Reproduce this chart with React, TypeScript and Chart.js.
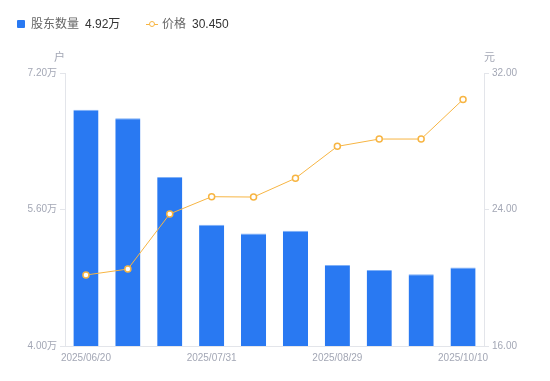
import React, { useEffect, useRef } from "react";
import { Chart, registerables } from "chart.js";

Chart.register(...registerables);

const categories = [
  "2025/06/20", "2025/06/30", "2025/07/10", "2025/07/31", "2025/08/10",
  "2025/08/20", "2025/08/29", "2025/09/10", "2025/09/30", "2025/10/10",
];
const holders = [6.77, 6.67, 5.98, 5.42, 5.32, 5.35, 4.95, 4.89, 4.84, 4.92];
const prices = [20.16, 20.51, 23.74, 24.75, 24.73, 25.83, 27.7, 28.13, 28.13, 30.45];
const leftTicks = [4.0, 5.6, 7.2];
const rightTicks = [16, 24, 32];
const shownLabelIdx = [0, 3, 6, 9];

const BLUE = "#2979f2";
const ORANGE = "#f7b543";
const TICK = "#a3a7b5";
const AXIS = "#e3e5ea";
const FONT = "'Liberation Sans', 'Noto Sans CJK SC', sans-serif";

export default function App() {
  const ref = useRef<HTMLCanvasElement | null>(null);
  useEffect(() => {
    if (!ref.current) return;
    const chart = new Chart(ref.current, {
      type: "bar",
      data: {
        labels: categories,
        datasets: [
          {
            type: "line",
            label: "价格",
            data: prices,
            yAxisID: "y1",
            borderColor: ORANGE,
            borderWidth: 1,
            pointRadius: 3,
            pointBorderWidth: 1.5,
            pointBackgroundColor: "#ffffff",
            pointBorderColor: ORANGE,
            tension: 0,
            order: 0,
          } as any,
          {
            type: "bar",
            label: "股东数量",
            data: holders,
            yAxisID: "y",
            backgroundColor: BLUE,
            borderColor: "#7fb0f7",
            borderWidth: { top: 1, left: 0, right: 0, bottom: 0 },
            categoryPercentage: 0.6,
            barPercentage: 1,
            order: 1,
          } as any,
        ],
      },
      options: {
        animation: false,
        responsive: false,
        layout: { padding: { top: 73, left: 0, right: 0, bottom: 0 } },
        plugins: { legend: { display: false }, tooltip: { enabled: false } },
        scales: {
          x: {
            grid: { display: false, drawTicks: false },
            border: { color: AXIS },
            ticks: {
              autoSkip: false,
              maxRotation: 0,
              color: TICK,
              font: { size: 10, family: FONT },
              padding: 6,
              callback: (_v: any, i: number) => (shownLabelIdx.includes(i) ? categories[i] : ""),
            },
            afterFit: (s: any) => { s.height = 35; },
          },
          y: {
            position: "left",
            min: 4,
            max: 7.2,
            afterBuildTicks: (s: any) => { s.ticks = leftTicks.map((v) => ({ value: v })); },
            grid: { drawOnChartArea: false, color: AXIS, tickLength: 5 },
            border: { color: AXIS },
            ticks: {
              color: TICK,
              font: { size: 10, family: FONT },
              padding: 3,
              callback: (v: any) => Number(v).toFixed(2) + "万",
            },
            afterFit: (s: any) => { s.width = 65; },
          },
          y1: {
            position: "right",
            min: 16,
            max: 32,
            afterBuildTicks: (s: any) => { s.ticks = rightTicks.map((v) => ({ value: v })); },
            grid: { drawOnChartArea: false, color: AXIS, tickLength: 5 },
            border: { color: AXIS },
            ticks: {
              color: TICK,
              font: { size: 10, family: FONT },
              padding: 3,
              callback: (v: any) => Number(v).toFixed(2),
            },
            afterFit: (s: any) => { s.width = 66; },
          },
        },
      },
    });
    return () => chart.destroy();
  }, []);

  const txt: React.CSSProperties = { position: "absolute", fontFamily: FONT, fontSize: 12, lineHeight: "16px", whiteSpace: "nowrap" };
  return (
    <div style={{ position: "fixed", left: 0, top: 0, width: 550, height: 381, background: "#fff" }}>
      <canvas ref={ref} width={550} height={381} style={{ position: "absolute", left: 0, top: 0, width: 550, height: 381 }} />
      <div style={{ position: "absolute", left: 17, top: 20, width: 8, height: 8, background: BLUE, borderRadius: 1 }} />
      <span style={{ ...txt, left: 31, top: 16, color: "#666" }}>股东数量</span>
      <span style={{ ...txt, left: 85, top: 16, color: "#333" }}>4.92万</span>
      <div style={{ position: "absolute", left: 146, top: 23.5, width: 12, height: 1, background: ORANGE }} />
      <div style={{ position: "absolute", left: 149, top: 20.5, width: 4, height: 4, border: `1.5px solid ${ORANGE}`, borderRadius: "50%", background: "#fff" }} />
      <span style={{ ...txt, left: 162, top: 16, color: "#666" }}>价格</span>
      <span style={{ ...txt, left: 192, top: 16, color: "#333" }}>30.450</span>
      <span style={{ ...txt, left: 54, top: 49, color: TICK, fontSize: 11 }}>户</span>
      <span style={{ ...txt, left: 484, top: 49, color: TICK, fontSize: 11 }}>元</span>
    </div>
  );
}
